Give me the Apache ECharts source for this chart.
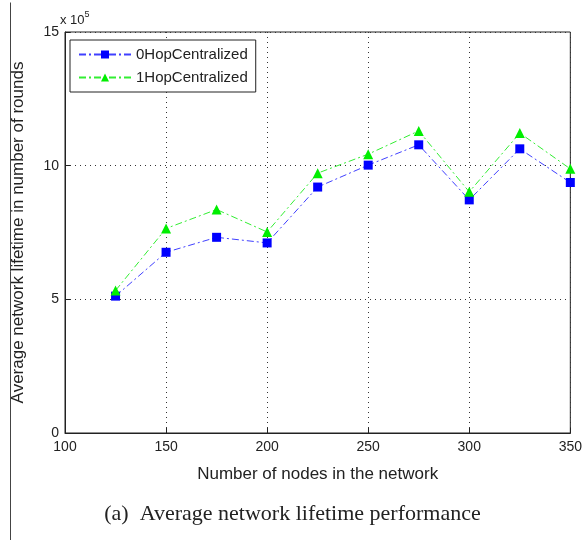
<!DOCTYPE html>
<html>
<head>
<meta charset="utf-8">
<script src="https://cdn.jsdelivr.net/npm/echarts@6/dist/echarts.min.js"></script>
<style>
  html, body { margin: 0; padding: 0; background: #fff; }
  #chart { width: 585px; height: 540px; }
</style>
</head>
<body>
<div id="chart"></div>
<script>
// x values (number of nodes)
const nodes = [125, 150, 175, 200, 225, 250, 275, 300, 325, 350]
// lifetime in units of 10^5 rounds
const zeroHop = [5.12, 6.76, 7.32, 7.11, 9.2, 10.02, 10.78, 8.72, 10.63, 9.37]
const oneHop = [5.33, 7.65, 8.36, 7.52, 9.72, 10.43, 11.3, 9.02, 11.22, 9.88]
const xTicks = [100, 150, 200, 250, 300, 350]
const yTicks = [0, 5, 10, 15]

const chart = echarts.init(document.getElementById('chart'))

const font = 'Liberation Sans, Arial, sans-serif'
const dashDot = [7, 3, 2, 3]

const option = {
  backgroundColor: '#fff',
  animation: false,
  textStyle: { fontFamily: font },
  grid: {
    left: 65, right: 13, top: 32, bottom: 107,
    show: true, borderColor: '#222', borderWidth: 1
  },
  legend: {
    left: 70, top: 40,
    orient: 'vertical',
    backgroundColor: '#fff',
    borderColor: '#222', borderWidth: 1,
    padding: [7, 8, 7, 8],
    itemGap: 8,
    itemWidth: 52, itemHeight: 10,
    textStyle: { fontFamily: font, fontSize: 15, color: '#222' },
    data: ['0HopCentralized', '1HopCentralized']
  },
  xAxis: {
    type: 'value',
    min: xTicks[0], max: xTicks[xTicks.length - 1], interval: 50,
    name: 'Number of nodes in the network',
    nameLocation: 'middle', nameGap: 33,
    nameTextStyle: { fontSize: 17, color: '#222' },
    axisLine: { lineStyle: { color: '#222' } },
    axisTick: { inside: true, length: 5, lineStyle: { color: '#222' } },
    axisLabel: { color: '#222', fontSize: 14, margin: 7 },
    splitLine: { show: true, lineStyle: { color: '#333', type: [1, 4] } }
  },
  yAxis: {
    type: 'value',
    min: yTicks[0], max: yTicks[yTicks.length - 1], interval: 5,
    name: 'Average network lifetime in number of rounds',
    nameLocation: 'middle', nameGap: 38,
    nameTextStyle: { fontSize: 17, color: '#222' },
    axisLine: { show: true, lineStyle: { color: '#222' } },
    axisTick: { show: true, inside: true, length: 5, lineStyle: { color: '#222' } },
    axisLabel: { color: '#222', fontSize: 14, margin: 6 },
    splitLine: { show: true, lineStyle: { color: '#333', type: [1, 4] } }
  },
  graphic: [
    {
      type: 'line', left: 8, top: 0, silent: true,
      shape: { x1: 0, y1: 0, x2: 0, y2: 540 },
      style: { stroke: '#444', lineWidth: 1 }
    },
    {
      type: 'text', left: 60, top: 10,
      style: {
        text: '{a|x 10}{b|5}',
        rich: {
          a: { fontFamily: font, fontSize: 13, fill: '#222', verticalAlign: 'bottom' },
          b: { fontFamily: font, fontSize: 9, fill: '#222', verticalAlign: 'top', padding: [0, 0, 8, 0] }
        }
      }
    },
    {
      type: 'text', left: 'center', top: 503,
      style: {
        text: '(a)  Average network lifetime performance',
        fontFamily: 'Liberation Serif, Times New Roman, serif',
        fontSize: 22, fill: '#222'
      }
    }
  ],
  series: [
    {
      name: '0HopCentralized',
      type: 'line',
      data: nodes.map((n, i) => [n, zeroHop[i]]),
      symbol: 'rect', symbolSize: 9,
      itemStyle: { color: '#0000ff' },
      lineStyle: { color: '#4040ff', width: 1, type: dashDot }
    },
    {
      name: '1HopCentralized',
      type: 'line',
      data: nodes.map((n, i) => [n, oneHop[i]]),
      symbol: 'triangle', symbolSize: 10,
      itemStyle: { color: '#00ee00' },
      lineStyle: { color: '#33ee33', width: 1, type: dashDot }
    }
  ]
}

chart.setOption(option)
</script>
</body>
</html>
